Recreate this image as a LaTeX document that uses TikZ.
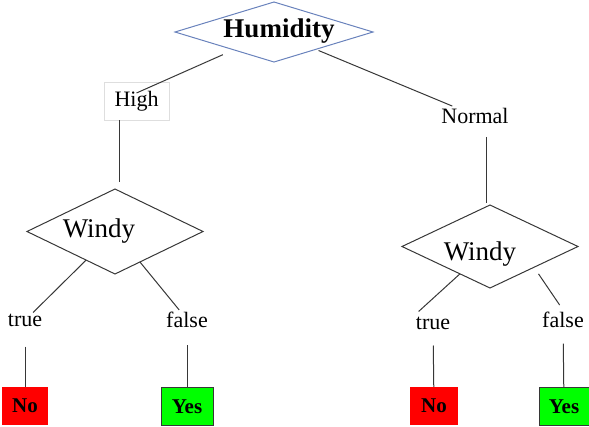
\documentclass[tikz,border=0pt]{standalone}
\usepackage{fontspec}
\setmainfont{Liberation Serif}
\usetikzlibrary{shapes.geometric}

\definecolor{humblue}{RGB}{105,130,188}
\definecolor{edgegray}{RGB}{55,55,55}
\definecolor{boxgray}{RGB}{222,222,222}

\begin{document}
\begin{tikzpicture}[x=1pt,y=-1pt,
  split/.style={draw=edgegray,line width=1pt,shape=diamond,inner sep=0pt,outer sep=0pt},
  big/.style={inner sep=0pt,font=\fontsize{27}{30}\selectfont},
  word/.style={inner sep=1.5pt,font=\fontsize{22}{24}\selectfont},
  leaf/.style={minimum height=38pt,inner sep=0pt,font=\fontsize{21}{23}\selectfont\bfseries},
  noleaf/.style={leaf,fill=red},
  yesleaf/.style={leaf,fill=green,draw=edgegray,line width=1pt},
  edge/.style={draw=edgegray,line width=1pt}]
\useasboundingbox (0,0) rectangle (589,426);

\node[split,draw=humblue,minimum width=198pt,minimum height=60pt] (hum) at (274,32) {};
\node[big,font=\fontsize{27}{30}\selectfont\bfseries] (humtext) at (279,31.5) {Humidity};
\node[word,draw=boxgray,minimum width=65pt,minimum height=38pt] (high) at (136.5,101) {High};
\node[word] (normal) at (475,115.5) {Normal};
\node[split,minimum width=176pt,minimum height=85pt] (w1) at (115,231.5) {};
\node[big] (w1text) at (99,231) {Windy};
\node[split,minimum width=176pt,minimum height=83pt] (w2) at (490,246.5) {};
\node[big] (w2text) at (480,254) {Windy};
\node[word] (t1) at (25,320.5) {true};
\node[word] (f1) at (187,319.5) {false};
\node[word] (t2) at (433,323.5) {true};
\node[word] (f2) at (563,319.5) {false};
\node[noleaf,minimum width=46pt] (n1) at (25,406) {No};
\node[yesleaf,minimum width=52pt] (y1) at (187,406.5) {Yes};
\node[noleaf,minimum width=48pt] (n2) at (434,406) {No};
\node[yesleaf,minimum width=50pt] (y2) at (564,406.5) {Yes};

\draw[edge,shorten <=12pt] (hum) -- ([yshift=8pt]high.center);
\draw[edge,shorten <=3pt] (hum) -- (normal);
\draw[edge] ([xshift=-17.5pt]high.south) -- ([xshift=4pt,yshift=7pt]w1.north);
\draw[edge,shorten <=12pt,shorten >=2pt] ([xshift=11pt]normal.south) -- ([xshift=-4pt]w2.north);
\draw[edge] (w1) -- (t1);
\draw[edge] (w1) -- (f1);
\draw[edge,shorten >=6pt] (w2) -- (t2.north west);
\draw[edge,shorten <=8pt,shorten >=6pt] (w2.south east) -- (f2.north);
\draw[edge,shorten <=18pt] (t1) -- (n1);
\draw[edge,shorten <=16pt] (f1) -- (y1);
\draw[edge,shorten <=14pt] (t2) -- (n2);
\draw[edge,shorten <=14.5pt] (f2) -- (y2);
\end{tikzpicture}
\end{document}
